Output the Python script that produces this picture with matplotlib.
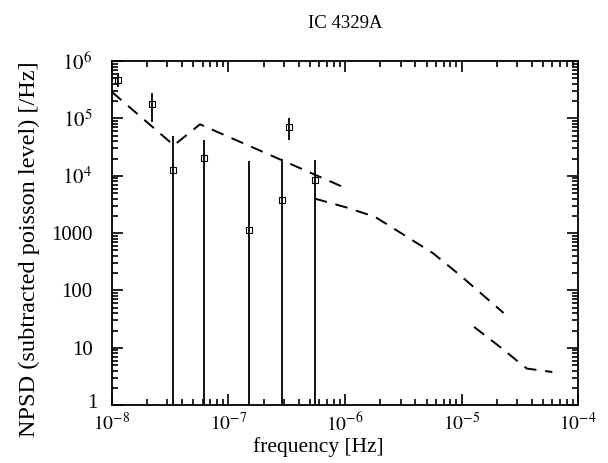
import math
import matplotlib
matplotlib.use("Agg")
import matplotlib.pyplot as plt
from matplotlib.ticker import FuncFormatter, LogLocator
from matplotlib.transforms import ScaledTranslation

plt.rcParams['font.family'] = ['Liberation Serif', 'DejaVu Serif']
plt.rcParams['mathtext.fontset'] = 'stix'

# measured NPSD points
freq = [1.13e-8, 2.23e-8, 3.36e-8, 6.17e-8, 1.51e-7, 2.86e-7, 3.29e-7, 5.5e-7]
npsd = [4.66e5, 1.78e5, 1.25e4, 2.03e4, 1.14e3, 3.85e3, 7.1e4, 8.3e3]
npsd_hi = [6.2e5, 2.76e5, 4.9e4, 4.17e4, 1.8e4, 1.93e4, 1.01e5, 1.87e4]
npsd_lo = [3.5e5, 8.6e4, 0.1, 0.1, 0.1, 0.1, 4.18e4, 0.1]

# model curves (dashed)
model1_f = [1e-8, 3.4e-8, 5.7e-8, 1e-6]
model1_p = [2.9e5, 3.4e4, 7.9e4, 6.15e3]

model2_f = [5.5e-7, 1.03e-6, 1.81e-6, 3.16e-6, 5.73e-6, 9.7e-6, 2.29e-5]
model2_p = [4.0e3, 2.8e3, 1.92e3, 946, 441, 184, 40.5]

model3_f = [1.28e-5, 2.14e-5, 3.08e-5, 3.63e-5, 6.0e-5]
model3_p = [23.1, 10.3, 5.65, 4.34, 3.78]


def yfmt(v, pos):
    if v < 1e4:
        return '%d' % round(v)
    return r'$10^{%d}$' % round(math.log10(v))


def xfmt(v, pos):
    return r'$10^{%d}$' % round(math.log10(v))


fig = plt.figure(figsize=(6.08, 4.63), dpi=100)
ax = fig.add_axes([0.184, 0.125, 0.767, 0.743])

lo = [p - l for p, l in zip(npsd, npsd_lo)]
hi = [h - p for p, h in zip(npsd, npsd_hi)]
ax.errorbar(freq, npsd, yerr=[lo, hi], fmt='s', mfc='none', mec='black',
            ms=4, mew=0.8, ecolor='black', elinewidth=1.3, capsize=0)

for f, p in [(model1_f, model1_p), (model2_f, model2_p), (model3_f, model3_p)]:
    ax.plot(f, p, color='black', lw=1.4, dashes=(6.5, 4.5))

ax.set_xscale('log')
ax.set_yscale('log')
ax.set_xlim(1e-8, 1e-4)
ax.set_ylim(1, 1e6)

ax.xaxis.set_major_locator(LogLocator(base=10, numticks=10))
ax.yaxis.set_major_locator(LogLocator(base=10, numticks=10))
ax.xaxis.set_major_formatter(FuncFormatter(xfmt))
ax.yaxis.set_major_formatter(FuncFormatter(yfmt))

ax.tick_params(which='both', direction='in', top=True, right=True, width=1.2)
ax.tick_params(which='major', length=8)
ax.tick_params(which='minor', length=4)
ax.tick_params(axis='x', which='major', pad=5, labelsize=14)
ax.tick_params(axis='y', which='major', pad=14, labelsize=15)
for s in ax.spines.values():
    s.set_linewidth(1.3)

ax.set_xlabel('frequency [Hz]', fontsize=15.5, labelpad=2)
ax.xaxis.label.set_x(0.442)
ax.set_ylabel('NPSD (subtracted poisson level) [/Hz]', fontsize=17.5, labelpad=8)
ax.yaxis.label.set_y(0.453)
ax.set_title('IC 4329A', fontsize=13.5, pad=24)

# bottom "1" sits a little up and right of its tick, as in the original
fig.canvas.draw()
for t in ax.get_yticklabels():
    if t.get_text() == '1':
        t.set_transform(t.get_transform() +
                        ScaledTranslation(4 / 72, 3 / 72, fig.dpi_scale_trans))

fig.savefig('out.png', dpi=100)
